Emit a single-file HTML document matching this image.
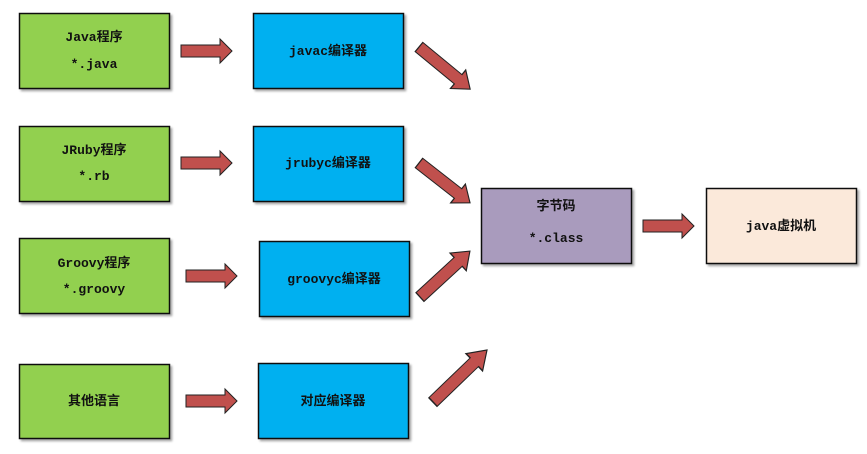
<!DOCTYPE html>
<html><head><meta charset="utf-8"><style>
html,body{margin:0;padding:0;background:#fff;width:867px;height:454px;overflow:hidden}
svg text{font-family:"Liberation Mono","Noto Sans CJK SC",monospace;font-weight:bold;font-size:13px;fill:#111;text-anchor:middle}
</style></head><body>
<svg width="867" height="454" viewBox="0 0 867 454" xmlns="http://www.w3.org/2000/svg">
<defs>
<filter id="sh" x="-5%" y="-5%" width="115%" height="115%"><feDropShadow dx="2" dy="2" stdDeviation="1" flood-color="#000" flood-opacity="0.35"/></filter>
<polygon id="ah" points="0,-6 39,-6 39,-12 51,0 39,12 39,6 0,6" fill="#c0504d" stroke="#222" stroke-width="1"/>
</defs>
<g stroke="#111" stroke-width="1.5" filter="url(#sh)">
<rect x="19.5" y="13.5" width="150" height="75" fill="#92d050"/>
<rect x="19.5" y="126.5" width="150" height="75" fill="#92d050"/>
<rect x="19.5" y="238.5" width="150" height="75" fill="#92d050"/>
<rect x="19.5" y="364.5" width="150" height="74" fill="#92d050"/>
<rect x="253.5" y="13.5" width="150" height="75" fill="#00b0f0"/>
<rect x="253.5" y="126.5" width="150" height="75" fill="#00b0f0"/>
<rect x="259.5" y="241.5" width="150" height="75" fill="#00b0f0"/>
<rect x="258.5" y="363.5" width="150" height="75" fill="#00b0f0"/>
<rect x="481.5" y="188.5" width="150" height="75" fill="#a99bbd"/>
<rect x="706.5" y="188.5" width="150" height="75" fill="#fbe9da"/>
</g>
<use href="#ah" transform="translate(181,51)"/>
<use href="#ah" transform="translate(181,163)"/>
<use href="#ah" transform="translate(186,276)"/>
<use href="#ah" transform="translate(186,401)"/>
<use href="#ah" transform="translate(643,226)"/>
<use href="#ah" transform="translate(419,47) rotate(39.5) scale(1.3,1)"/>
<use href="#ah" transform="translate(419,163) rotate(38) scale(1.27,1)"/>
<use href="#ah" transform="translate(420,297) rotate(-42.6) scale(1.33,1)"/>
<use href="#ah" transform="translate(433,402) rotate(-43.9) scale(1.47,1)"/>
<text x="94" y="41">Java程序</text>
<text x="94" y="68">*.java</text>
<text x="94" y="154">JRuby程序</text>
<text x="94" y="180">*.rb</text>
<text x="94" y="267">Groovy程序</text>
<text x="94" y="293">*.groovy</text>
<text x="94" y="405">其他语言</text>
<text x="328" y="55">javac编译器</text>
<text x="328" y="167">jrubyc编译器</text>
<text x="334" y="283">groovyc编译器</text>
<text x="333" y="405">对应编译器</text>
<text x="556" y="210">字节码</text>
<text x="556" y="242">*.class</text>
<text x="781" y="230">java虚拟机</text>
</svg>
</body></html>
